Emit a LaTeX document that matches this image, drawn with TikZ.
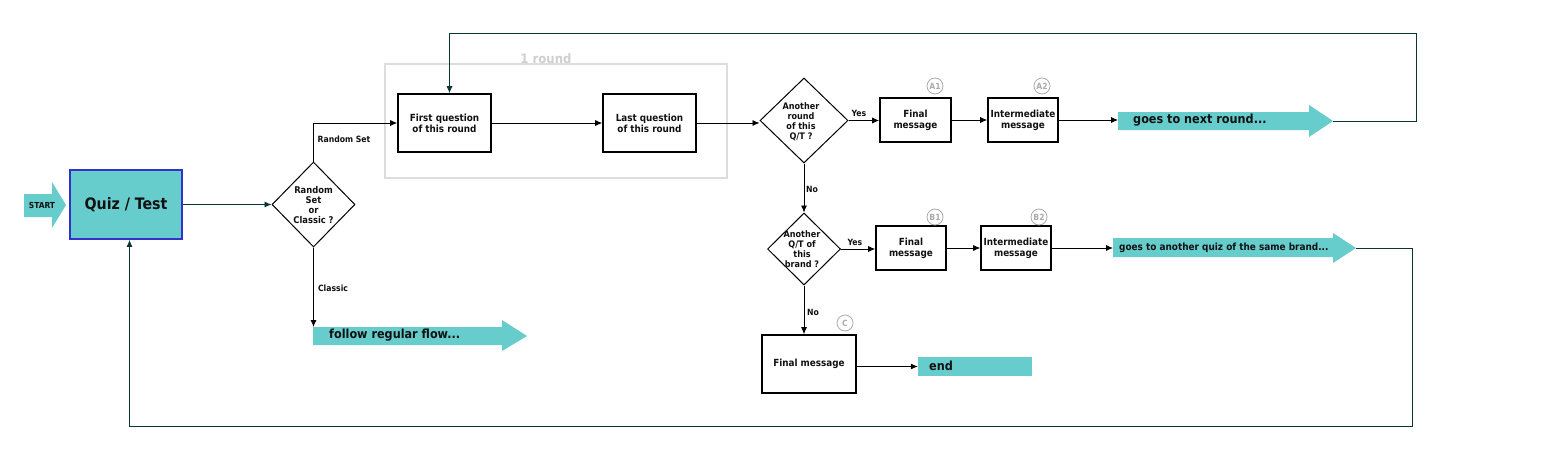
\documentclass[tikz,border=0pt]{standalone}
\usepackage{fontspec}
\setmainfont{DejaVu Sans Condensed}
\usetikzlibrary{shapes.geometric,arrows.meta,calc}
\definecolor{teal1}{HTML}{66CCCC}
\definecolor{dteal}{HTML}{0A3535}
\definecolor{qblue}{HTML}{3333CC}
\definecolor{txt}{HTML}{111111}
\definecolor{gcirc}{HTML}{AAAAAA}
\definecolor{gbox}{HTML}{DDDDDD}
\begin{document}
\begin{tikzpicture}[x=1pt,y=-1pt,
  box/.style={draw=black, line width=1.6pt, inner sep=0pt, align=center, text=txt,
    font=\bfseries\fontsize{9.8}{11}\selectfont},
  dia/.style={diamond, draw=black, line width=1pt, inner sep=0pt},
  dtext/.style={align=center, text=txt, inner sep=0pt, font=\bfseries\fontsize{9}{10}\selectfont},
  lbl/.style={text=txt, inner sep=0pt, font=\bfseries\fontsize{8.6}{10}\selectfont},
  bigtxt/.style={text=txt, inner sep=0pt, font=\bfseries\fontsize{12.5}{14}\selectfont},
  circ/.style={circle, draw=gcirc, line width=0.8pt, minimum size=16pt, inner sep=0pt,
    text=gcirc, font=\bfseries\fontsize{8.5}{9}\selectfont},
  conn/.style={-{Latex[length=7pt,width=6pt]}, line width=0.8pt, draw=black},
  dconn/.style={-{Latex[length=7pt,width=6pt]}, line width=0.8pt, draw=dteal},
  dline/.style={line width=0.8pt, draw=dteal}]
\useasboundingbox (0,0) rectangle (1550,450);
% round frame
\draw[gbox, line width=1.6pt] (385,64) rectangle (727,178);
\node[text=gbox!85!gray, inner sep=0pt, font=\bfseries\fontsize{13}{15}\selectfont] (rnd) at (546,59) {1 round};
% START arrow
\fill[teal1] (24,194) -- (52,194) -- (52,182) -- (66,205) -- (52,228) -- (52,217) -- (24,217) -- cycle;
\node[text=txt, inner sep=0pt, font=\bfseries\fontsize{8.3}{9}\selectfont] (start) at (42,205) {START};
% Quiz box
\node[draw=qblue, fill=teal1, line width=1.8pt, minimum width=112pt, minimum height=69pt, inner sep=0pt,
  text=txt, font=\bfseries\fontsize{15.8}{18}\selectfont] (quiz) at (126,204.5) {Quiz / Test};
% diamond 1
\node[dia, minimum width=83pt, minimum height=85pt] (d1) at (313.5,204.5) {};
\node[dtext, font=\bfseries\fontsize{9.3}{10}\selectfont] (d1t) at (313.5,205) {Random\\Set\\or\\Classic ?};
% round boxes
\node[box, minimum width=93pt, minimum height=58pt] (first) at (444.5,123) {First question\\of this round};
\node[box, minimum width=93pt, minimum height=58pt] (last) at (649.5,123) {Last question\\of this round};
% diamond 2
\node[dia, minimum width=88pt, minimum height=85pt] (d2) at (804,120.5) {};
\node[dtext] (d2t) at (801,122) {Another\\round\\of this\\Q/T ?};
\node[box, minimum width=71pt, minimum height=44pt] (a1) at (915.5,120) {Final\\message};
\node[box, minimum width=70pt, minimum height=44pt] (a2) at (1023,120) {Intermediate\\message};
\node[circ] (ca1) at (935,86) {A1};
\node[circ] (ca2) at (1042,86) {A2};
% next round arrow
\fill[teal1] (1118,112) -- (1309,112) -- (1309,105) -- (1333,121) -- (1309,137) -- (1309,130) -- (1118,130) -- cycle;
\coordinate (g1) at (1118,121);
\coordinate (g1tip) at (1333,121);
\node[bigtxt, anchor=west] (tnext) at (1133,120) {goes to next round...};
% diamond 3
\node[dia, minimum width=73pt, minimum height=72pt] (d3) at (804,249) {};
\node[dtext] (d3t) at (802,249.5) {Another\\Q/T of\\this\\brand ?};
\node[box, minimum width=70pt, minimum height=44pt] (b1) at (911,248) {Final\\message};
\node[box, minimum width=70pt, minimum height=44pt] (b2) at (1016,248) {Intermediate\\message};
\node[circ] (cb1) at (935,217) {B1};
\node[circ] (cb2) at (1039,217) {B2};
% another quiz arrow
\fill[teal1] (1113,238) -- (1333,238) -- (1333,233) -- (1356,248) -- (1333,263) -- (1333,257) -- (1113,257) -- cycle;
\coordinate (g2) at (1113,248);
\coordinate (g2tip) at (1356,248);
\node[text=txt, inner sep=0pt, anchor=west, font=\bfseries\fontsize{9.9}{11}\selectfont] (tanother) at (1119,247.5) {goes to another quiz of the same brand...};
% final C
\node[box, minimum width=94pt, minimum height=58pt] (c) at (809,364) {Final message};
\node[circ] (cc) at (845,323) {C};
\node[fill=teal1, minimum width=114pt, minimum height=19pt, inner sep=0pt] (endbox) at (975,366.5) {};
\node[bigtxt, anchor=west] (tend) at (929,366) {end};
% follow regular flow
\fill[teal1] (313,327) -- (502,327) -- (502,320) -- (527,336) -- (502,351) -- (502,345) -- (313,345) -- cycle;
\coordinate (fstart) at (313.5,327);
\node[bigtxt, anchor=west] (tfollow) at (329,335.5) {follow regular flow...};
% connectors
\draw[dconn] (quiz.east) -- (d1.west);
\draw[conn] (d1.north) |- (first.west);
\draw[conn] (d1.south) -- (fstart);
\draw[conn] (first.east) -- (last.west);
\draw[conn] (last.east) -- (d2.west |- last.east);
\draw[conn] (d2.east) -- (a1.west |- d2.east);
\draw[conn] (a1.east) -- (a2.west);
\draw[conn] (a2.east) -- (a2.east -| g1);
\coordinate (r1) at (1416.5,33);
\draw[dconn] (g1tip) -| (r1) -| ([xshift=5pt]first.north);
\draw[conn] (d2.south) -- (d3.north);
\draw[conn] (d3.east) -- (b1.west |- d3.east);
\draw[conn] (b1.east) -- (b2.west);
\draw[conn] (b2.east) -- (g2);
\coordinate (r2) at (1412.5,426);
\draw[dconn] (g2tip) -| (r2) -| ([xshift=3.5pt]quiz.south);
\draw[conn] (d3.south) -- (d3.south |- c.north);
\draw[conn] (endbox.west -| c.east) -- (endbox.west);
% labels
\node[lbl] (lrs) at (344,139) {Random Set};
\node[lbl] (lcl) at (333,288) {Classic};
\node[lbl] (ly1) at (859,113) {Yes};
\node[lbl] (ln1) at (812,189) {No};
\node[lbl] (ly2) at (855,242) {Yes};
\node[lbl] (ln2) at (813,312) {No};
\end{tikzpicture}
\end{document}
